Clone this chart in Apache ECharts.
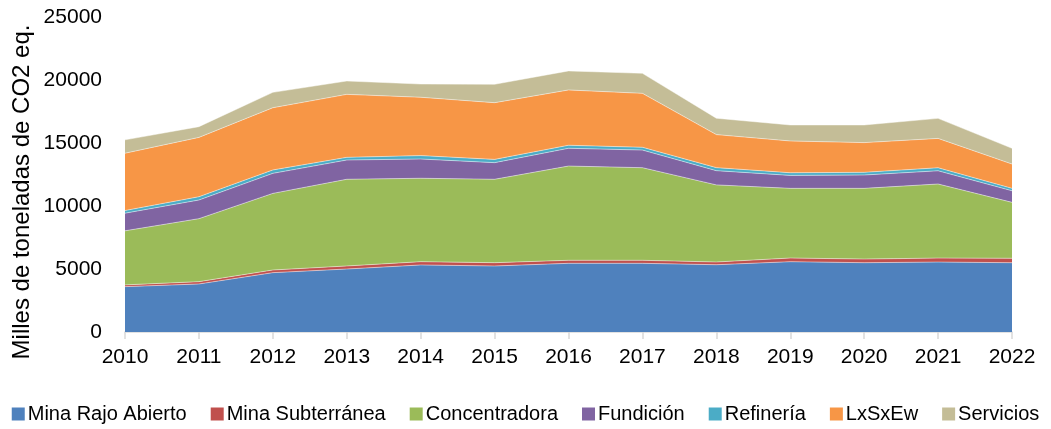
<!DOCTYPE html>
<html>
<head>
<meta charset="utf-8">
<script src="https://cdn.jsdelivr.net/npm/echarts@6/dist/echarts.min.js"></script>
<style>
html,body{margin:0;padding:0;background:#fff;}
#chart{width:1051px;height:429px;}
</style>
</head>
<body>
<div id="chart"></div>
<script>
var years = ["2010","2011","2012","2013","2014","2015","2016","2017","2018","2019","2020","2021","2022"];
var names = ["Mina Rajo Abierto","Mina Subterránea","Concentradora","Fundición","Refinería","LxSxEw","Servicios"];
var colors = ["#4F81BD","#C0504D","#9BBB59","#8064A2","#4BACC6","#F79646","#C4BD97"];

var rajoAbierto   = [3600,3810,4710,5000,5320,5240,5450,5450,5340,5580,5500,5550,5500];
var subterranea   = [140,185,210,240,260,260,240,240,215,290,290,315,350];
var concentradora = [4290,5000,6080,6880,6620,6620,7480,7350,6120,5530,5610,5880,4440];
var fundicion     = [1400,1480,1590,1530,1530,1320,1410,1400,1130,1030,1060,1050,920];
var refineria     = [210,260,270,210,270,260,240,220,240,210,210,240,190];
var lxsxew        = [4550,4710,4940,5000,4630,4500,4390,4280,2620,2520,2360,2330,1930];
var servicios     = [1060,850,1220,1060,1050,1460,1510,1590,1300,1270,1400,1590,1250];

var values = [rajoAbierto,subterranea,concentradora,fundicion,refineria,lxsxew,servicios];
var font = "Liberation Sans";

var chart = echarts.init(document.getElementById("chart"));
var series = names.map(function(n,i){
	return {
		name:n,type:"line",stack:"total",data:values[i],
		symbol:"none",
		lineStyle:{width:1,color:"rgba(255,255,255,0.45)"},
		areaStyle:{color:colors[i],opacity:1},
		itemStyle:{color:colors[i]}
	};
});

chart.setOption({
	animation:false,
	textStyle:{fontFamily:font},
	grid:{left:125,right:39,top:17,bottom:97},
	legend:{
		bottom:0,left:"center",itemWidth:13,itemHeight:13,itemGap:24,
		icon:"rect",
		textStyle:{fontFamily:font,fontSize:20,color:"#000",padding:[0,0,0,-2]},
		data:names
	},
	graphic:[{
		type:"text",x:22,y:192,rotation:Math.PI/2,
		style:{text:"Milles de toneladas de CO2 eq.",fill:"#000",
			font:"24px '"+font+"'",align:"center",verticalAlign:"middle"}
	}],
	xAxis:{
		type:"category",data:years,boundaryGap:false,
		axisLine:{lineStyle:{color:"#D9D9D9",width:1.5}},
		axisTick:{show:true,length:7,lineStyle:{color:"#D9D9D9",width:1.5}},
		axisLabel:{color:"#000",fontSize:21,margin:15,fontFamily:font}
	},
	yAxis:{
		type:"value",min:0,max:25000,interval:5000,
		axisLine:{show:false},axisTick:{show:false},
		splitLine:{show:false},
		axisLabel:{color:"#000",fontSize:21,margin:23,fontFamily:font,
			formatter:function(v){return String(v);}}
	},
	series:series
});
</script>
</body>
</html>
